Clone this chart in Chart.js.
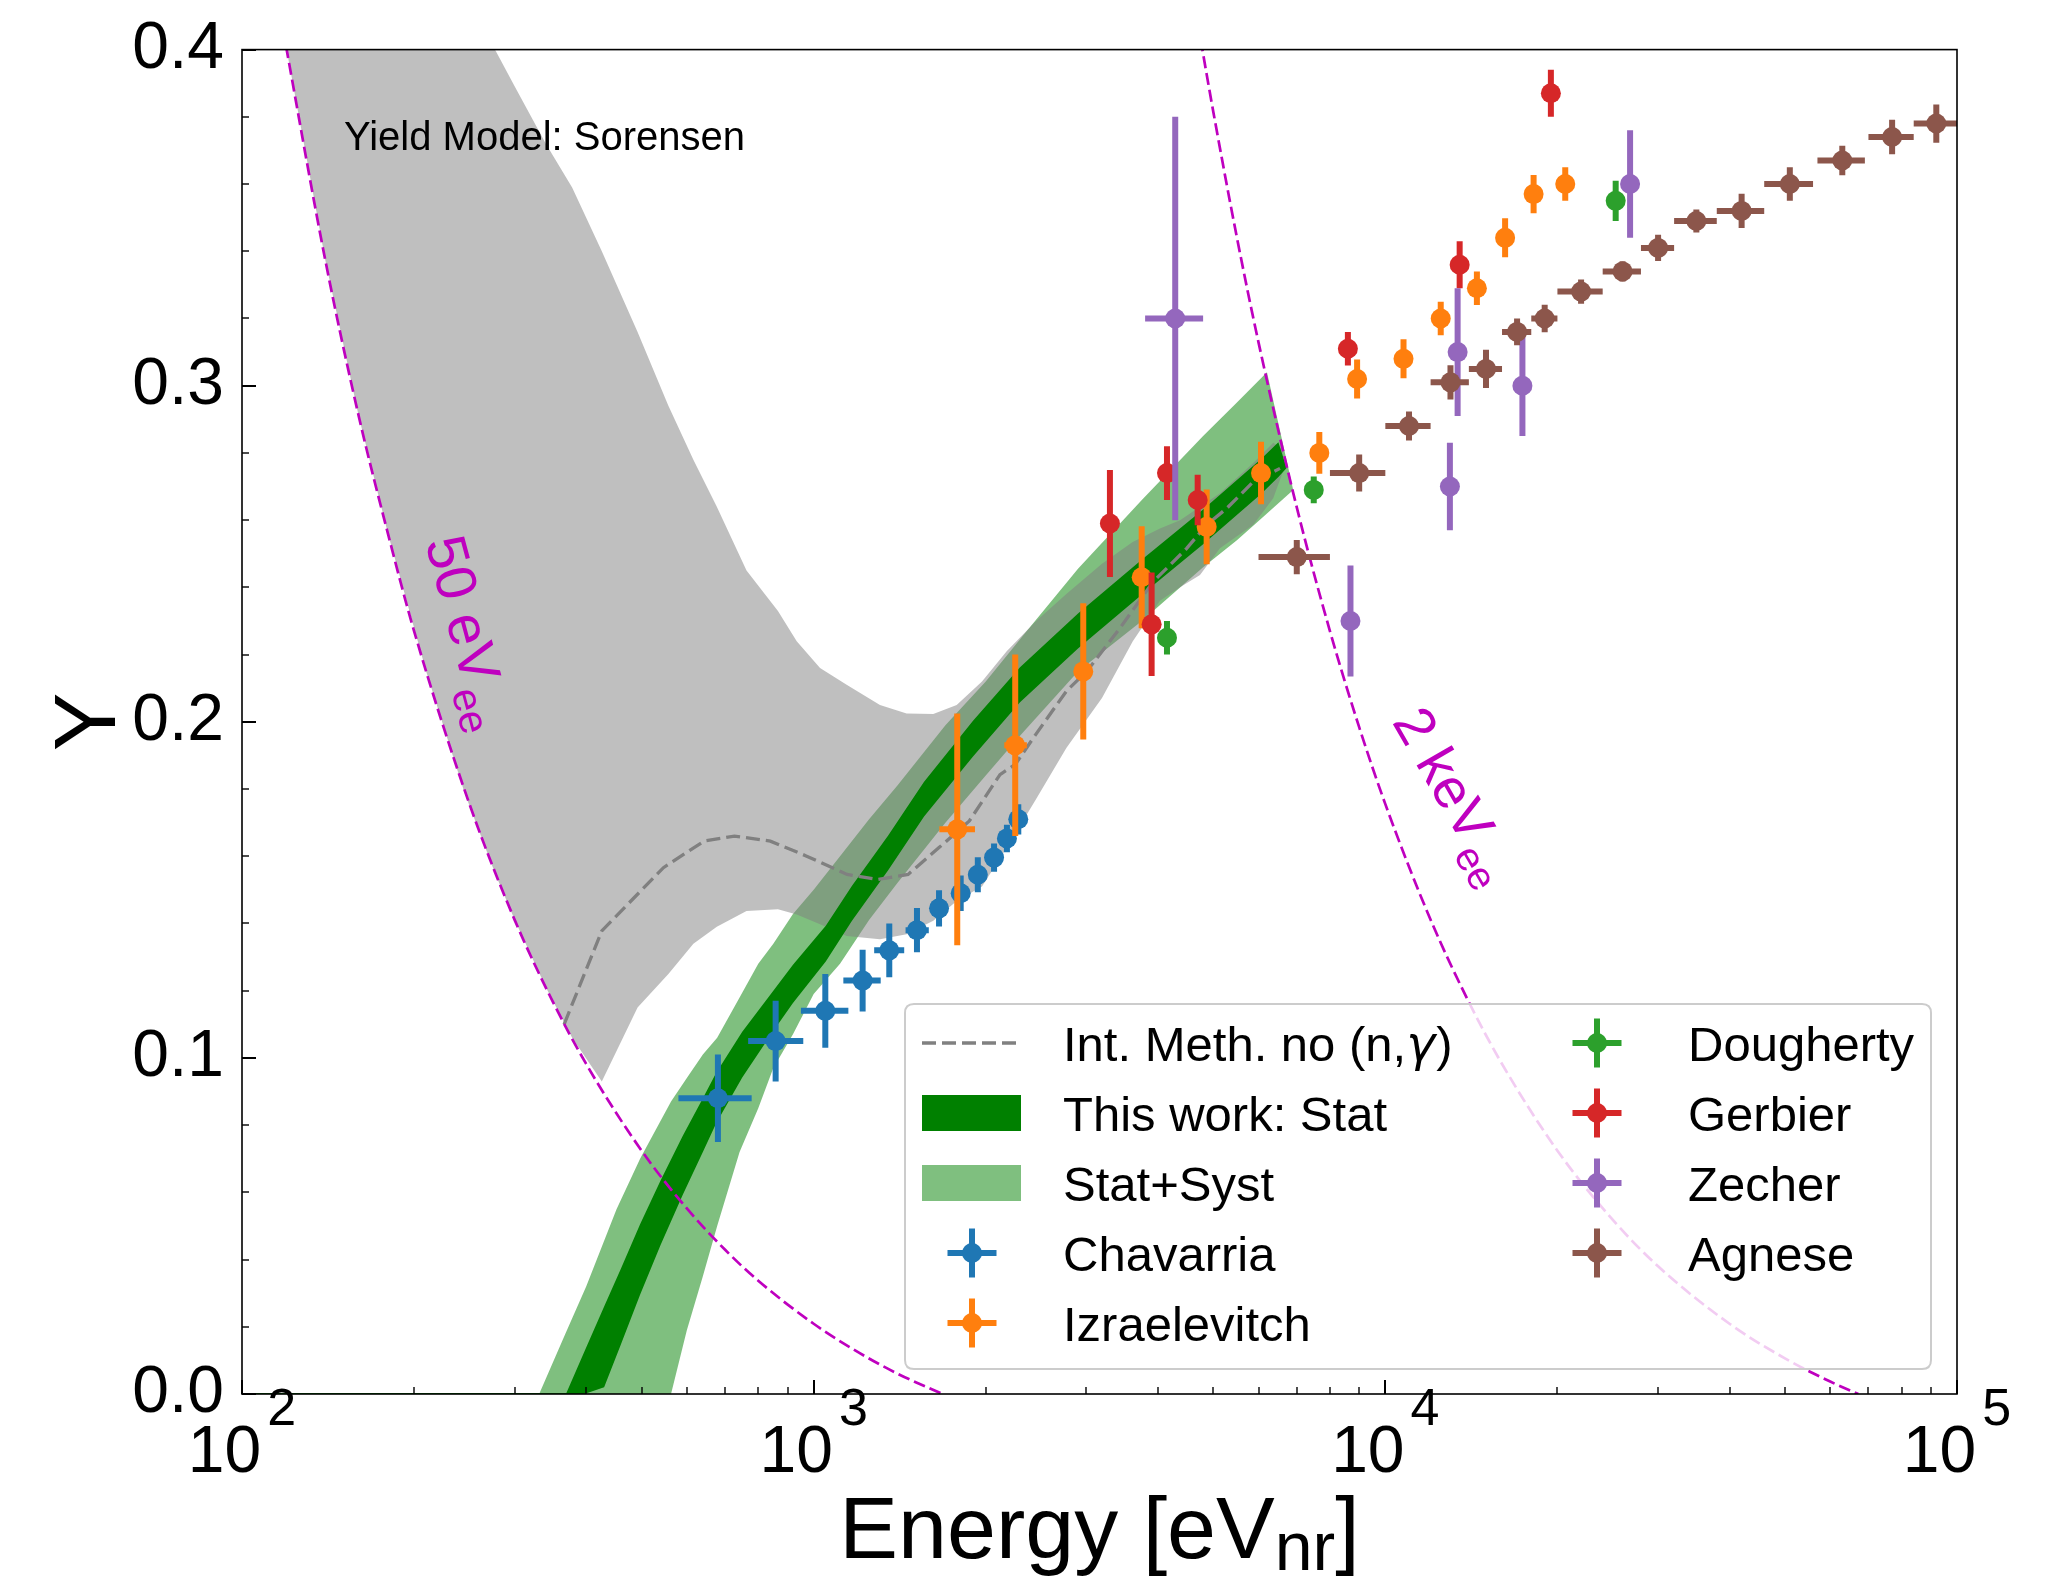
<!DOCTYPE html>
<html>
<head>
<meta charset="utf-8">
<title>Ionization yield vs nuclear recoil energy</title>
<script src="https://cdn.jsdelivr.net/npm/chart.js@4.4.1/dist/chart.umd.min.js"></script>
<style>
  html, body { margin: 0; padding: 0; background: #ffffff; }
  canvas { display: block; }
</style>
</head>
<body>
<canvas id="yieldChart" width="2058" height="1577"></canvas>
<script>
// ---------------- axis ticks ----------------
const xDecades = [100, 1000, 10000, 100000];
const xDecadeExponents = ['2', '3', '4', '5'];
const yMajorTicks = [0, 0.1, 0.2, 0.3, 0.4];

// ---------------- this work: Stat+Syst band ----------------
const systE     = [331, 368, 400, 452, 497, 563, 600, 640, 678, 742, 800, 850, 920, 1000, 1112, 1250, 1400, 1700, 2000, 2300, 2900, 3750, 4800, 5500, 6208, 6900];
const systUpper = [0.000, 0.018, 0.032, 0.055, 0.070, 0.087, 0.094, 0.101, 0.106, 0.118, 0.128, 0.134, 0.1428, 0.150, 0.160, 0.171, 0.181, 0.199, 0.212, 0.2247, 0.2455, 0.266, 0.285, 0.295, 0.304, 0.269];
const systLower = [0.000, 0.000, 0.000, 0.000, 0.000, 0.000, 0.019, 0.035, 0.050, 0.072, 0.085, 0.097, 0.107, 0.119, 0.128, 0.141, 0.152, 0.170, 0.184, 0.196, 0.215, 0.230, 0.246, 0.254, 0.262, 0.269];

// ---------------- this work: Stat band ----------------
const statE     = [368.7, 397, 430, 460, 497, 540, 590, 640, 675, 750, 850, 920, 1050, 1167, 1350, 1560, 1900, 2296, 2900, 3748, 4800, 6061, 6500, 6720];
const statUpper = [0.000, 0.0126, 0.026, 0.0373, 0.0505, 0.0636, 0.0768, 0.0880, 0.0955, 0.1078, 0.1200, 0.1277, 0.1393, 0.1512, 0.1662, 0.1822, 0.2003, 0.2162, 0.2322, 0.2482, 0.2632, 0.2782, 0.2832, 0.2755];
const statLower = [0.000, 0.000, 0.002, 0.0147, 0.0295, 0.0444, 0.0592, 0.0720, 0.0805, 0.0942, 0.1080, 0.1163, 0.1287, 0.1408, 0.1558, 0.1718, 0.1897, 0.2058, 0.2218, 0.2378, 0.2528, 0.2678, 0.2728, 0.2755];
const statZeroE = [100, 400];

// ---------------- Sorensen yield model band ----------------
const sorensenE     = [120, 140, 160, 180, 210, 245, 277, 300, 340, 378, 426, 492, 557, 616, 677, 763, 866, 934, 1026, 1142, 1306, 1454, 1619, 1779, 1970, 2176, 2450, 2767, 3194, 3614, 4034, 4374, 4740, 5137, 5875, 6367, 6620];
const sorensenUpper = [0.400, 0.400, 0.400, 0.400, 0.400, 0.400, 0.400, 0.389, 0.372, 0.359, 0.340, 0.316, 0.294, 0.278, 0.264, 0.245, 0.233, 0.224, 0.216, 0.211, 0.205, 0.2025, 0.2023, 0.205, 0.212, 0.221, 0.230, 0.238, 0.247, 0.2535, 0.2575, 0.260, 0.264, 0.268, 0.277, 0.283, 0.281];
const sorensenLower = [0.399, 0.337, 0.291, 0.256, 0.215, 0.179, 0.155, 0.141, 0.121, 0.106, 0.093, 0.115, 0.125, 0.134, 0.139, 0.1437, 0.1442, 0.1427, 0.1398, 0.1363, 0.1353, 0.1368, 0.1408, 0.1467, 0.151, 0.1625, 0.177, 0.1922, 0.2071, 0.2239, 0.236, 0.240, 0.2437, 0.2516, 0.2586, 0.2665, 0.2744];

// ---------------- integral method without (n,gamma) ----------------
const intMethE = [366, 426, 546, 643, 727, 840, 970, 1144, 1293, 1463, 1655, 1872, 2118, 2252, 2445, 2767, 3003, 3435, 3926, 4493, 4869, 5278, 5875, 6543];
const intMethY = [0.110, 0.1378, 0.1566, 0.1645, 0.166, 0.1645, 0.1601, 0.1546, 0.1531, 0.1546, 0.1625, 0.1705, 0.1843, 0.1873, 0.1962, 0.2091, 0.215, 0.2279, 0.2417, 0.2516, 0.2586, 0.2635, 0.2714, 0.2754];

// ---------------- threshold curves ----------------
const thr50E = [118, 120, 140, 160, 180, 200, 250, 300, 350, 400, 500, 600, 700, 800, 1000, 1200, 1400, 1680];
const thr50Y = [0.406, 0.399, 0.337, 0.291, 0.256, 0.227, 0.1755, 0.141, 0.1166, 0.0982, 0.0724, 0.0552, 0.0429, 0.0337, 0.0209, 0.0123, 0.0061, 0.0];
const thr2kE = [4700, 4786, 5000, 5500, 6000, 7000, 8000, 9000, 10000, 12000, 14000, 16000, 20000, 25000, 30000, 40000, 50000, 60000, 67200];
const thr2kY = [0.408, 0.400, 0.3816, 0.3441, 0.3129, 0.2638, 0.227, 0.1984, 0.1755, 0.1411, 0.1166, 0.0982, 0.0724, 0.0518, 0.038, 0.0209, 0.0106, 0.0037, 0.0];

// ---------------- measurements ----------------
const chavarriaE    = [680, 858, 1048, 1218, 1356, 1516, 1657, 1808, 1937, 2068, 2178, 2280];
const chavarriaY    = [0.088, 0.105, 0.114, 0.123, 0.132, 0.138, 0.1445, 0.149, 0.1545, 0.1596, 0.1653, 0.171];
const chavarriaYErr = [0.013, 0.012, 0.011, 0.0092, 0.008, 0.0066, 0.0054, 0.0053, 0.0052, 0.0042, 0.0041, 0.0045];
const chavarriaXLo  = [580, 768, 950, 1127, 1276, 1448, null, null, null, null, null, null];
const chavarriaXHi  = [779, 959, 1150, 1310, 1440, 1590, null, null, null, null, null, null];

const izraelevitchE    = [1783, 2252, 2962, 3748, 4869, 6061, 7665, 8925, 10760, 12500, 14460, 16200, 18170, 20640];
const izraelevitchY    = [0.168, 0.193, 0.215, 0.243, 0.258, 0.274, 0.280, 0.302, 0.308, 0.320, 0.329, 0.344, 0.357, 0.360];
const izraelevitchYErr = [0.0345, 0.027, 0.0203, 0.0152, 0.0111, 0.0093, 0.0062, 0.0058, 0.0058, 0.005, 0.005, 0.0058, 0.0057, 0.005];
const izraelevitchXLo  = [1659, 2155, null, null, null, null, null, null, null, null, null, null, null, null];
const izraelevitchXHi  = [1915, 2360, null, null, null, null, null, null, null, null, null, null, null, null];

const doughertyE    = [4150, 7495, 25290];
const doughertyY    = [0.225, 0.269, 0.355];
const doughertyYErr = [0.005, 0.004, 0.006];

const gerbierE    = [3298, 3901, 4150, 4696, 8600, 13490, 19480];
const gerbierY    = [0.259, 0.229, 0.274, 0.266, 0.311, 0.336, 0.387];
const gerbierYErr = [0.0159, 0.0154, 0.008, 0.0075, 0.005, 0.007, 0.007];

const zecherE    = [4290, 8690, 12970, 13380, 17370, 26800];
const zecherY    = [0.320, 0.230, 0.270, 0.310, 0.300, 0.360];
const zecherYErr = [0.060, 0.0165, 0.013, 0.019, 0.015, 0.016];
const zecherXLo  = [3800, 8500, null, null, null, null];
const zecherXHi  = [4800, 8880, null, null, null, null];

const agneseE    = [7000, 9000, 11000, 13000, 15000, 17000, 19000, 22000, 26000, 30000, 35000, 42000, 51000, 63000, 77000, 92000];
const agneseY    = [0.249, 0.274, 0.288, 0.301, 0.305, 0.316, 0.320, 0.328, 0.334, 0.341, 0.349, 0.352, 0.360, 0.367, 0.374, 0.378];
const agneseYErr = [0.0051, 0.0055, 0.0043, 0.0051, 0.0057, 0.004, 0.0041, 0.0036, 0.003, 0.0039, 0.0034, 0.0051, 0.005, 0.0044, 0.0051, 0.0057];
const agneseXLo  = [6000, 8000, 10000, 12000, 14000, 16000, 18000, 20000, 24000, 28000, 32000, 38000, 46000, 57000, 70000, 84000];
const agneseXHi  = [8000, 10000, 12000, 14000, 16000, 18000, 20000, 24000, 28000, 32000, 38000, 46000, 56000, 69000, 84000, 100000];

// ---------------- labels ----------------
const legendLeft  = ['Int. Meth. no (n,\u03b3)', 'This work: Stat', 'Stat+Syst', 'Chavarria', 'Izraelevitch'];
const legendRight = ['Dougherty', 'Gerbier', 'Zecher', 'Agnese'];
const modelNote = 'Yield Model: Sorensen';

// ---------------- styling ----------------
const FAMILY = '"Liberation Sans", Arial, Helvetica, sans-serif';
const C = {
  blue: '#1f77b4', orange: '#ff7f0e', green: '#2ca02c', red: '#d62728',
  purple: '#9467bd', brown: '#8c564b', magenta: '#bf00bf',
  stat: '#008000', syst: 'rgba(0,128,0,0.5)', model: 'rgba(128,128,128,0.5)', dash: '#808080'
};
const ERR_WIDTH = 6;
const MARKER_R = 10;

function pts(xs, ys) { return xs.map((x, i) => ({ x: x, y: ys[i] })); }

function bandPair(label, xs, up, lo, color, order) {
  return [
    { label: label, data: pts(xs, up), borderWidth: 0, pointRadius: 0, backgroundColor: color,
      fill: '+1', order: order, showLine: true },
    { label: label + ' lower', data: pts(xs, lo), borderWidth: 0, pointRadius: 0,
      backgroundColor: 'rgba(0,0,0,0)', fill: false, order: order - 1, showLine: true }
  ];
}

function measured(label, xs, ys, yErr, xLo, xHi, color, order) {
  return { label: label, data: pts(xs, ys), showLine: false, pointRadius: MARKER_R,
    pointHoverRadius: MARKER_R, pointBorderWidth: 0, pointBackgroundColor: color,
    backgroundColor: color, borderColor: color, order: order,
    errY: yErr, errXLo: xLo || null, errXHi: xHi || null };
}

const datasets = [].concat(
  bandPair('Stat+Syst', systE, systUpper, systLower, C.syst, 100),
  bandPair('Sorensen model', sorensenE, sorensenUpper, sorensenLower, C.model, 90),
  bandPair('This work: Stat', statE, statUpper, statLower, C.stat, 80),
  [
    { label: 'Stat zero', data: pts(statZeroE, [0, 0]), borderColor: C.stat, borderWidth: 2,
      pointRadius: 0, fill: false, order: 75, showLine: true },
    { label: legendLeft[0], data: pts(intMethE, intMethY), borderColor: C.dash, borderWidth: 3.3,
      borderDash: [14, 6], pointRadius: 0, fill: false, order: 70, showLine: true },
    { label: '50 eVee', data: pts(thr50E, thr50Y), borderColor: C.magenta, borderWidth: 2.7,
      borderDash: [12, 5], pointRadius: 0, fill: false, order: 60, showLine: true, cubicInterpolationMode: 'monotone' },
    { label: '2 keVee', data: pts(thr2kE, thr2kY), borderColor: C.magenta, borderWidth: 2.7,
      borderDash: [12, 5], pointRadius: 0, fill: false, order: 60, showLine: true, cubicInterpolationMode: 'monotone' },
    measured('Chavarria', chavarriaE, chavarriaY, chavarriaYErr, chavarriaXLo, chavarriaXHi, C.blue, 50),
    measured('Izraelevitch', izraelevitchE, izraelevitchY, izraelevitchYErr, izraelevitchXLo, izraelevitchXHi, C.orange, 49),
    measured('Dougherty', doughertyE, doughertyY, doughertyYErr, null, null, C.green, 48),
    measured('Gerbier', gerbierE, gerbierY, gerbierYErr, null, null, C.red, 47),
    measured('Zecher', zecherE, zecherY, zecherYErr, zecherXLo, zecherXHi, C.purple, 46),
    measured('Agnese', agneseE, agneseY, agneseYErr, agneseXLo, agneseXHi, C.brown, 45)
  ]
);

// error bars go underneath each marker set
const errorBars = {
  id: 'errorBars',
  beforeDatasetDraw(chart, args) {
    const ds = chart.data.datasets[args.index];
    if (!ds.errY) return;
    const xs = chart.scales.x, ys = chart.scales.y, a = chart.chartArea;
    const ctx = chart.ctx;
    ctx.save();
    ctx.beginPath(); ctx.rect(a.left, a.top, a.right - a.left, a.bottom - a.top); ctx.clip();
    ctx.strokeStyle = ds.backgroundColor; ctx.lineWidth = ERR_WIDTH; ctx.lineCap = 'butt';
    ds.data.forEach((p, i) => {
      const px = xs.getPixelForValue(p.x), py = ys.getPixelForValue(p.y);
      const e = ds.errY[i];
      ctx.beginPath();
      ctx.moveTo(px, ys.getPixelForValue(p.y - e));
      ctx.lineTo(px, ys.getPixelForValue(p.y + e));
      ctx.stroke();
      if (ds.errXLo && ds.errXLo[i] != null) {
        ctx.beginPath();
        ctx.moveTo(xs.getPixelForValue(ds.errXLo[i]), py);
        ctx.lineTo(xs.getPixelForValue(ds.errXHi[i]), py);
        ctx.stroke();
      }
    });
    ctx.restore();
  }
};

function errMarker(ctx, x, y, color) {
  ctx.save();
  ctx.strokeStyle = color; ctx.fillStyle = color; ctx.lineWidth = ERR_WIDTH;
  ctx.beginPath(); ctx.moveTo(x, y - 24.5); ctx.lineTo(x, y + 24.5); ctx.stroke();
  ctx.beginPath(); ctx.moveTo(x - 24.5, y); ctx.lineTo(x + 24.5, y); ctx.stroke();
  ctx.beginPath(); ctx.arc(x, y, MARKER_R, 0, Math.PI * 2); ctx.fill();
  ctx.restore();
}

function rotatedLabel(ctx, chart, E, Y, deg, main, sub, size) {
  const x = chart.scales.x.getPixelForValue(E), y = chart.scales.y.getPixelForValue(Y);
  ctx.save();
  ctx.translate(x, y);
  ctx.rotate(deg * Math.PI / 180);
  ctx.fillStyle = C.magenta;
  ctx.textBaseline = 'alphabetic'; ctx.textAlign = 'left';
  ctx.font = size + 'px ' + FAMILY;
  ctx.fillText(main, 0, 0);
  const w = ctx.measureText(main).width;
  ctx.font = Math.round(size * 0.72) + 'px ' + FAMILY;
  ctx.fillText(sub, w + 3, size * 0.24);
  ctx.restore();
}

const decorations = {
  id: 'decorations',
  afterDatasetsDraw(chart) {
    const ctx = chart.ctx, a = chart.chartArea;
    const xs = chart.scales.x, ys = chart.scales.y;
    ctx.save();
    // frame
    ctx.strokeStyle = '#000'; ctx.lineWidth = 1.6;
    ctx.strokeRect(a.left, a.top, a.right - a.left, a.bottom - a.top);
    // y ticks (inward)
    ctx.lineWidth = 2;
    yMajorTicks.forEach(v => {
      const py = Math.round(ys.getPixelForValue(v));
      ctx.beginPath(); ctx.moveTo(a.left, py); ctx.lineTo(a.left + 14, py); ctx.stroke();
    });
    ctx.lineWidth = 1.4;
    for (let k = 1; k < 20; k++) {
      if (k % 5 === 0) continue;
      const py = Math.round(ys.getPixelForValue(k * 0.02));
      ctx.beginPath(); ctx.moveTo(a.left, py); ctx.lineTo(a.left + 7, py); ctx.stroke();
    }
    // x ticks (inward)
    xDecades.forEach((d, i) => {
      const px = Math.round(xs.getPixelForValue(d));
      ctx.lineWidth = 2;
      ctx.beginPath(); ctx.moveTo(px, a.bottom); ctx.lineTo(px, a.bottom - 14); ctx.stroke();
      if (i < xDecades.length - 1) {
        ctx.lineWidth = 1.4;
        for (let m = 2; m <= 9; m++) {
          const pm = Math.round(xs.getPixelForValue(d * m));
          ctx.beginPath(); ctx.moveTo(pm, a.bottom); ctx.lineTo(pm, a.bottom - 7); ctx.stroke();
        }
      }
    });
    // x tick labels 10^n
    ctx.fillStyle = '#000'; ctx.textBaseline = 'alphabetic'; ctx.textAlign = 'left';
    xDecades.forEach((d, i) => {
      const px = xs.getPixelForValue(d);
      ctx.font = '66px ' + FAMILY;
      const wb = ctx.measureText('10').width;
      ctx.font = '52px ' + FAMILY;
      const we = ctx.measureText(xDecadeExponents[i]).width;
      const x0 = px - (wb + 6 + we) / 2;
      ctx.font = '66px ' + FAMILY;
      ctx.fillText('10', x0, a.bottom + 78);
      ctx.font = '52px ' + FAMILY;
      ctx.fillText(xDecadeExponents[i], x0 + wb + 6, a.bottom + 31);
    });
    // axis titles
    const cx = (a.left + a.right) / 2;
    ctx.font = '88px ' + FAMILY;
    const t1 = 'Energy [eV', t3 = ']';
    const w1 = ctx.measureText(t1).width, w3 = ctx.measureText(t3).width;
    ctx.font = '68px ' + FAMILY;
    const w2 = ctx.measureText('nr').width;
    let tx = cx - (w1 + w2 + w3) / 2;
    ctx.font = '88px ' + FAMILY; ctx.fillText(t1, tx, 1558);
    ctx.font = '68px ' + FAMILY; ctx.fillText('nr', tx + w1, 1570);
    ctx.font = '88px ' + FAMILY; ctx.fillText(t3, tx + w1 + w2, 1558);
    ctx.save();
    ctx.translate(115, (a.top + a.bottom) / 2);
    ctx.rotate(-Math.PI / 2);
    ctx.textAlign = 'center';
    ctx.font = '88px ' + FAMILY;
    ctx.fillText('Y', 0, 0);
    ctx.restore();
    // model note
    ctx.font = '40px ' + FAMILY;
    ctx.fillText(modelNote, a.left + 102, a.top + 100);
    // threshold labels
    rotatedLabel(ctx, chart, 209, 0.2535, 75, '50 eV', 'ee', 57);
    rotatedLabel(ctx, chart, 10250, 0.2000, 60, '2 keV', 'ee', 56);
    ctx.restore();
  },
  afterDraw(chart) {
    const ctx = chart.ctx;
    ctx.save();
    // legend frame
    const bx = 905, by = 1004, bw = 1026, bh = 365, r = 9;
    ctx.beginPath();
    ctx.moveTo(bx + r, by); ctx.lineTo(bx + bw - r, by); ctx.quadraticCurveTo(bx + bw, by, bx + bw, by + r);
    ctx.lineTo(bx + bw, by + bh - r); ctx.quadraticCurveTo(bx + bw, by + bh, bx + bw - r, by + bh);
    ctx.lineTo(bx + r, by + bh); ctx.quadraticCurveTo(bx, by + bh, bx, by + bh - r);
    ctx.lineTo(bx, by + r); ctx.quadraticCurveTo(bx, by, bx + r, by);
    ctx.closePath();
    ctx.fillStyle = 'rgba(255,255,255,0.8)'; ctx.fill();
    ctx.strokeStyle = '#cccccc'; ctx.lineWidth = 2; ctx.stroke();

    const rows = [1043, 1113, 1183, 1253, 1323];
    // left column handles
    ctx.strokeStyle = C.dash; ctx.lineWidth = 3.3; ctx.setLineDash([14, 6]);
    ctx.beginPath(); ctx.moveTo(922, rows[0]); ctx.lineTo(1021, rows[0]); ctx.stroke();
    ctx.setLineDash([]);
    ctx.fillStyle = C.stat; ctx.fillRect(922, rows[1] - 18, 99, 36);
    ctx.fillStyle = C.syst; ctx.fillRect(922, rows[2] - 18, 99, 36);
    errMarker(ctx, 972, rows[3], C.blue);
    errMarker(ctx, 972, rows[4], C.orange);
    // right column handles
    [C.green, C.red, C.purple, C.brown].forEach((c, i) => errMarker(ctx, 1597, rows[i], c));
    // texts
    ctx.fillStyle = '#000'; ctx.textBaseline = 'alphabetic'; ctx.textAlign = 'left';
    ctx.font = '49px ' + FAMILY;
    const head = 'Int. Meth. no (n,';
    ctx.fillText(head, 1063, rows[0] + 17.5);
    let hx = 1063 + ctx.measureText(head).width;
    ctx.font = 'italic 49px "DejaVu Sans", ' + FAMILY;
    ctx.fillText('\u03b3', hx, rows[0] + 17.5);
    hx += ctx.measureText('\u03b3').width;
    ctx.font = '49px ' + FAMILY;
    ctx.fillText(')', hx + 1, rows[0] + 17.5);
    for (let i = 1; i < legendLeft.length; i++) ctx.fillText(legendLeft[i], 1063, rows[i] + 17.5);
    legendRight.forEach((t, i) => ctx.fillText(t, 1688, rows[i] + 17.5));
    ctx.restore();
  }
};

new Chart(document.getElementById('yieldChart'), {
  type: 'line',
  data: { datasets: datasets },
  options: {
    responsive: false,
    devicePixelRatio: 1,
    animation: false,
    events: [],
    layout: { padding: { top: 47, right: 101, left: 0, bottom: 0 } },
    elements: { line: { tension: 0 } },
    plugins: {
      legend: { display: false },
      tooltip: { enabled: false },
      filler: { propagate: false }
    },
    scales: {
      x: {
        type: 'logarithmic', min: 100, max: 100000, position: 'bottom',
        grid: { display: false }, border: { display: false },
        ticks: { display: false },
        afterFit: s => { s.height = 183; }
      },
      y: {
        type: 'linear', min: 0, max: 0.4, position: 'left',
        grid: { display: false }, border: { display: false },
        afterBuildTicks: s => { s.ticks = yMajorTicks.map(v => ({ value: v })); },
        ticks: {
          color: '#000', padding: 10,
          font: { size: 66, family: FAMILY },
          callback: v => Number(v).toFixed(1)
        },
        afterFit: s => { s.width = 242; }
      }
    }
  },
  plugins: [errorBars, decorations]
});
</script>
</body>
</html>
